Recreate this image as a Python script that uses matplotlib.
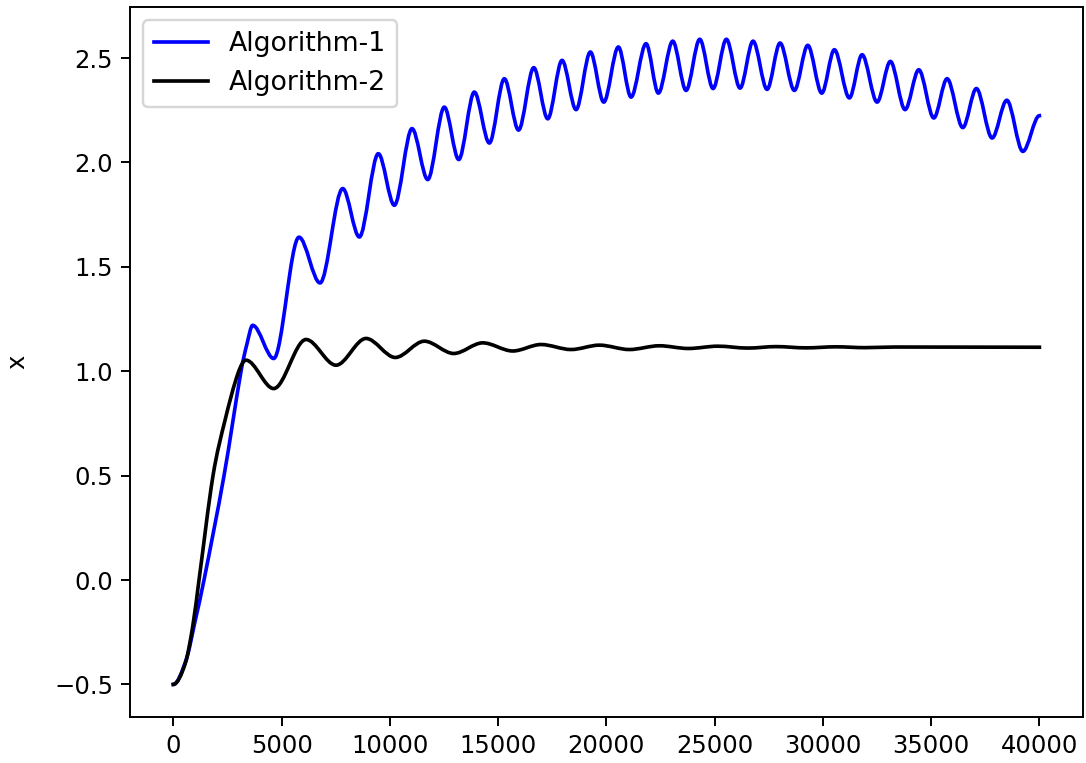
import matplotlib
matplotlib.use("Agg")
import matplotlib.pyplot as plt
import numpy as np
from matplotlib.lines import Line2D
from matplotlib.patches import PathPatch
from matplotlib.path import Path

# values: start, rise, then each peak / trough
algo1_x = [0, 600, 1000, 1418, 2342, 3127, 3400, 3667, 4637, 5806, 6776, 7825, 8591,
           9469, 10208, 11025, 11751, 12517, 13182, 13903, 14596, 15289, 15945, 16647,
           17294, 17954, 18601, 19261, 19880, 20555, 21141, 21834, 22402, 23067, 23682,
           24314, 24929, 25543, 26176, 26776, 27423, 28023, 28683, 29303, 29949, 30531,
           31224, 31811, 32504, 33118, 33797, 34430, 35123, 35737, 36462, 37090, 37816,
           38495, 39234, 40000]
algo1_y = [-0.50, -0.38, -0.20, 0.00, 0.50, 1.00, 1.13, 1.220, 1.061, 1.642, 1.423, 1.875,
           1.643, 2.042, 1.795, 2.162, 1.918, 2.265, 2.014, 2.337, 2.093, 2.401, 2.155,
           2.454, 2.209, 2.489, 2.253, 2.529, 2.289, 2.553, 2.313, 2.569, 2.332, 2.581,
           2.345, 2.590, 2.354, 2.590, 2.356, 2.581, 2.350, 2.572, 2.345, 2.561, 2.332,
           2.540, 2.309, 2.516, 2.289, 2.484, 2.253, 2.444, 2.213, 2.401, 2.167, 2.354,
           2.117, 2.298, 2.053, 2.224]

algo2_x = [0, 550, 900, 1187, 1834, 2400, 2988, 3358, 4637, 6129, 7515, 8901, 10254,
           11593, 12952, 14291, 15677, 16984, 18370, 19677, 21063, 22448, 23787, 25146,
           26531, 27838, 29224, 30610, 31950, 33300, 40000]
algo2_y = [-0.50, -0.40, -0.22, 0.00, 0.50, 0.77, 0.99, 1.053, 0.917, 1.152, 1.029,
           1.157, 1.066, 1.144, 1.085, 1.136, 1.097, 1.128, 1.104, 1.125, 1.104, 1.122,
           1.109, 1.120, 1.111, 1.118, 1.112, 1.117, 1.113, 1.116, 1.115]

series = [("Algorithm-1", algo1_x, algo1_y, "blue"),
          ("Algorithm-2", algo2_x, algo2_y, "black")]


def smooth_path(xs, ys):
    """Cubic Hermite path through the read points, flat at peaks and troughs."""
    xs = np.asarray(xs, dtype=float)
    ys = np.asarray(ys, dtype=float)
    slopes = np.zeros(len(xs))
    for i in range(1, len(xs) - 1):
        if (ys[i] - ys[i - 1]) * (ys[i + 1] - ys[i]) > 0:
            slopes[i] = (ys[i + 1] - ys[i - 1]) / (xs[i + 1] - xs[i - 1])
    verts = [(xs[0], ys[0])]
    codes = [Path.MOVETO]
    for i in range(len(xs) - 1):
        step = (xs[i + 1] - xs[i]) / 3
        verts += [(xs[i] + step, ys[i] + step * slopes[i]),
                  (xs[i + 1] - step, ys[i + 1] - step * slopes[i + 1]),
                  (xs[i + 1], ys[i + 1])]
        codes += [Path.CURVE4] * 3
    return Path(verts, codes)


fig = plt.figure(figsize=(1086 / 175, 763 / 175), dpi=175)
ax = fig.add_axes([130 / 1086, 46.3 / 763, 952.7 / 1086, 709.7 / 763])

handles = []
for label, xs, ys, color in series:
    ax.add_patch(PathPatch(smooth_path(xs, ys), facecolor="none", edgecolor=color,
                           linewidth=1.5, joinstyle="round", capstyle="projecting"))
    handles.append(Line2D([], [], color=color, linewidth=1.5, label=label))

all_x = algo1_x + algo2_x
all_y = algo1_y + algo2_y
xpad = 0.05 * (max(all_x) - min(all_x))
ypad = 0.05 * (max(all_y) - min(all_y))
ax.set_xlim(min(all_x) - xpad, max(all_x) + xpad)
ax.set_ylim(min(all_y) - ypad, max(all_y) + ypad)

ax.set_ylabel("x", labelpad=10)
ax.legend(handles=handles, loc="upper left", fontsize=11)

fig.savefig("out.png", dpi=175)
